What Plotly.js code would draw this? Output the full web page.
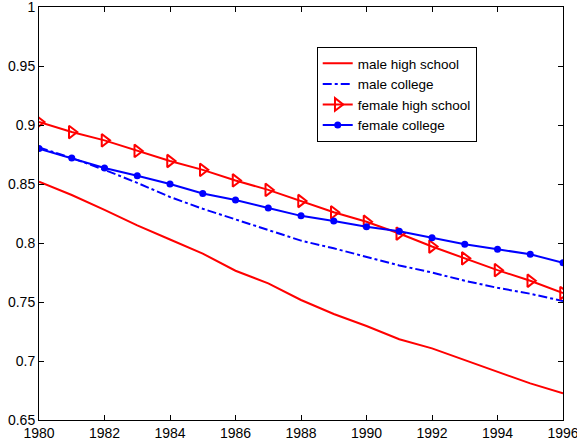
<!DOCTYPE html>
<html>
<head>
<meta charset="utf-8">
<script src="https://cdn.plot.ly/plotly-3.0.1.min.js"></script>
<style>body{margin:0;background:#fff}#chart{width:577px;height:440px}</style>
</head>
<body>
<div id="chart"></div>
<script>
var years = [1980,1981,1982,1983,1984,1985,1986,1987,1988,1989,1990,1991,1992,1993,1994,1995,1996];
var maleHighSchool = [0.852,0.8407,0.828,0.815,0.803,0.791,0.7765,0.7658,0.7517,0.7398,0.7297,0.7184,0.7107,0.7008,0.6909,0.681,0.6726];
var maleCollege = [0.881,0.872,0.862,0.851,0.839,0.829,0.820,0.811,0.802,0.7955,0.788,0.781,0.775,0.768,0.762,0.757,0.7508];
var femaleHighSchool = [0.9025,0.894,0.887,0.878,0.8695,0.862,0.853,0.845,0.8356,0.826,0.818,0.808,0.797,0.787,0.777,0.768,0.7576];
var femaleCollege = [0.880,0.872,0.8635,0.857,0.850,0.842,0.8364,0.8297,0.823,0.8186,0.8138,0.810,0.8045,0.799,0.7947,0.7904,0.7833];
var xTicks = [1980,1982,1984,1986,1988,1990,1992,1994,1996];
var yTicks = [0.65,0.7,0.75,0.8,0.85,0.9,0.95,1];

var traces = [
  {x: years, y: maleHighSchool, name: 'male high school', mode: 'lines',
   line: {color: '#ff0000', width: 2}},
  {x: years, y: maleCollege, name: 'male college', mode: 'lines',
   line: {color: '#0000ff', width: 2, dash: 'dashdot'}},
  {x: years, y: femaleHighSchool, name: 'female high school', mode: 'lines+markers',
   line: {color: '#ff0000', width: 2},
   marker: {symbol: 'triangle-right-open', size: 11, color: '#ff0000', line: {width: 2, color: '#ff0000'}}},
  {x: years, y: femaleCollege, name: 'female college', mode: 'lines+markers',
   line: {color: '#0000ff', width: 2},
   marker: {symbol: 'circle', size: 7, color: '#0000ff'}}
];

var axisCommon = {
  showgrid: false, zeroline: false, showline: true, linecolor: '#000', linewidth: 1,
  mirror: 'ticks', ticks: 'inside', ticklen: 5, tickcolor: '#000',
  ticklabeloverflow: 'allow',
  tickfont: {family: 'Liberation Sans, Arial, sans-serif', size: 14, color: '#000'}
};

var layout = {
  width: 577, height: 440,
  margin: {l: 39, r: 14, t: 7, b: 20},
  paper_bgcolor: '#fff', plot_bgcolor: '#fff',
  showlegend: true,
  font: {family: 'Liberation Sans, Arial, sans-serif', color: '#000'},
  xaxis: Object.assign({}, axisCommon, {range: [1980, 1996], tickvals: xTicks, ticktext: xTicks.map(String)}),
  yaxis: Object.assign({}, axisCommon, {range: [0.65, 1], tickvals: yTicks, ticktext: yTicks.map(String)}),
  legend: {x: 0.53, y: 0.903, xanchor: 'left', yanchor: 'top',
    bordercolor: '#000', borderwidth: 1, bgcolor: '#fff',
    font: {family: 'Liberation Sans, Arial, sans-serif', size: 13.5, color: '#000'},
    tracegroupgap: 0, itemwidth: 30}
};

Plotly.newPlot('chart', traces, layout, {displayModeBar: false, staticPlot: true});
</script>
</body>
</html>
